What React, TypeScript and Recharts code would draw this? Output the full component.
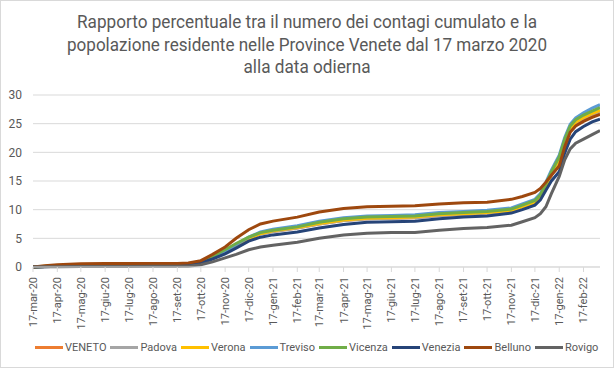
import React from 'react';
import { LineChart, Line, XAxis, YAxis, CartesianGrid } from 'recharts';

const dates = [
  '2020-03-17', '2020-04-01', '2020-04-17', '2020-05-17', '2020-06-17', '2020-07-17', '2020-08-17', '2020-09-17',
  '2020-10-01', '2020-10-17', '2020-11-01', '2020-11-17', '2020-12-01', '2020-12-17', '2021-01-01', '2021-01-17',
  '2021-02-17', '2021-03-17', '2021-04-17', '2021-05-17', '2021-06-17', '2021-07-17', '2021-08-17', '2021-09-17',
  '2021-10-17', '2021-11-17', '2021-12-01', '2021-12-17', '2021-12-24', '2021-12-31', '2022-01-07', '2022-01-17',
  '2022-01-24', '2022-01-31', '2022-02-07', '2022-02-17', '2022-02-28', '2022-03-10',
];

const veneto = [0.01, 0.1, 0.2, 0.3, 0.35, 0.35, 0.36, 0.37, 0.45, 0.85, 1.6, 2.6, 3.7, 4.9, 5.8, 6.2, 6.8, 7.5, 8.1, 8.4, 8.5, 8.6, 9.0, 9.2, 9.4, 9.8, 10.4, 11.2, 12.2, 14.0, 16.0, 18.5, 21.6, 23.9, 25.0, 25.8, 26.5, 27.0];
const padova = [0.01, 0.1, 0.2, 0.3, 0.35, 0.35, 0.36, 0.37, 0.45, 0.85, 1.6, 2.6, 3.7, 4.9, 5.8, 6.2, 6.8, 7.5, 8.1, 8.4, 8.5, 8.6, 9.0, 9.2, 9.4, 9.8, 10.4, 11.2, 12.2, 14.1, 16.2, 18.7, 21.8, 24.1, 25.2, 26.0, 26.7, 27.1];
const verona = [0.01, 0.12, 0.25, 0.35, 0.4, 0.4, 0.41, 0.42, 0.5, 0.9, 1.6, 2.6, 3.7, 4.9, 5.8, 6.3, 6.9, 7.6, 8.2, 8.5, 8.6, 8.7, 9.1, 9.3, 9.5, 9.9, 10.5, 11.3, 12.3, 14.2, 16.3, 18.8, 21.9, 24.2, 25.3, 26.1, 26.8, 27.3];
const treviso = [0.01, 0.1, 0.2, 0.25, 0.3, 0.3, 0.31, 0.32, 0.45, 0.9, 1.7, 2.7, 3.9, 5.2, 6.1, 6.6, 7.2, 8.0, 8.6, 8.9, 9.0, 9.1, 9.5, 9.7, 9.9, 10.3, 11.0, 11.8, 12.8, 14.8, 16.9, 19.5, 22.6, 24.9, 26.0, 26.9, 27.7, 28.3];
const vicenza = [0.01, 0.1, 0.2, 0.3, 0.35, 0.35, 0.36, 0.37, 0.5, 1.0, 1.9, 3.0, 4.1, 5.2, 6.0, 6.4, 7.0, 7.8, 8.4, 8.7, 8.8, 8.9, 9.3, 9.5, 9.7, 10.1, 10.8, 11.6, 12.6, 14.5, 16.6, 19.2, 22.3, 24.6, 25.7, 26.5, 27.2, 27.8];
const venezia = [0.01, 0.06, 0.12, 0.18, 0.2, 0.2, 0.21, 0.22, 0.3, 0.7, 1.4, 2.3, 3.3, 4.5, 5.2, 5.6, 6.1, 6.8, 7.4, 7.8, 7.9, 8.0, 8.4, 8.7, 8.9, 9.4, 10.0, 10.8, 11.7, 13.4, 15.0, 16.6, 19.9, 22.3, 23.6, 24.5, 25.3, 25.8];
const belluno = [0.02, 0.2, 0.4, 0.55, 0.6, 0.6, 0.61, 0.62, 0.7, 1.1, 2.2, 3.5, 5.0, 6.5, 7.5, 8.0, 8.7, 9.6, 10.2, 10.5, 10.6, 10.7, 11.0, 11.2, 11.3, 11.8, 12.3, 13.0, 13.7, 14.8, 16.0, 17.6, 21.0, 23.5, 24.6, 25.4, 26.1, 26.6];
const rovigo = [0.0, 0.03, 0.06, 0.08, 0.1, 0.1, 0.11, 0.12, 0.15, 0.4, 0.9, 1.6, 2.2, 3.0, 3.5, 3.8, 4.3, 5.0, 5.6, 5.9, 6.0, 6.0, 6.4, 6.7, 6.9, 7.3, 7.9, 8.6, 9.3, 10.5, 12.8, 15.8, 18.7, 20.6, 21.6, 22.3, 23.1, 23.8];

const seriesNames = ['VENETO', 'Padova', 'Verona', 'Treviso', 'Vicenza', 'Venezia', 'Belluno', 'Rovigo'];
const seriesColors = ['#ED7D31', '#A5A5A5', '#FFC000', '#5B9BD5', '#70AD47', '#264478', '#9E480E', '#636363'];
const seriesValues = [veneto, padova, verona, treviso, vicenza, venezia, belluno, rovigo];

const tickDates = [
  '2020-03-17', '2020-04-17', '2020-05-17', '2020-06-17', '2020-07-17', '2020-08-17', '2020-09-17', '2020-10-17',
  '2020-11-17', '2020-12-17', '2021-01-17', '2021-02-17', '2021-03-17', '2021-04-17', '2021-05-17', '2021-06-17',
  '2021-07-17', '2021-08-17', '2021-09-17', '2021-10-17', '2021-11-17', '2021-12-17', '2022-01-17', '2022-02-17',
];
const tickLabels = [
  '17-mar-20', '17-apr-20', '17-mag-20', '17-giu-20', '17-lug-20', '17-ago-20', '17-set-20', '17-ott-20',
  '17-nov-20', '17-dic-20', '17-gen-21', '17-feb-21', '17-mar-21', '17-apr-21', '17-mag-21', '17-giu-21',
  '17-lug-21', '17-ago-21', '17-set-21', '17-ott-21', '17-nov-21', '17-dic-21', '17-gen-22', '17-feb-22',
];
const yTicks = [0, 5, 10, 15, 20, 25, 30];
const titleLines = [
  'Rapporto percentuale tra il numero dei contagi cumulato e la',
  'popolazione residente nelle Province Venete dal 17 marzo 2020',
  'alla data odierna',
];

const FONT = 'Roboto, "Noto Sans", sans-serif';
const TEXT = '#595959';

const data = dates.map((d, i) => {
  const row: Record<string, number> = { ts: Date.parse(d) };
  seriesNames.forEach((n, k) => { row[n] = seriesValues[k][i]; });
  return row;
});
const tickTs = tickDates.map((d) => Date.parse(d));
const labelOf: Record<number, string> = {};
tickTs.forEach((t, i) => { labelOf[t] = tickLabels[i]; });

const XTick = (props: any) => {
  const { x, y, payload } = props;
  const yy = y + 3;
  return (
    <text x={x} y={yy} transform={`rotate(-90, ${x}, ${yy})`} textAnchor="end" dy="0.36em"
      fill={TEXT} fontSize={11} fontFamily={FONT}>
      {labelOf[payload.value]}
    </text>
  );
};

const titleWidths = [460, 480, 127];

export default function App() {
  return (
    <div style={{ position: 'absolute', left: 0, top: 0, width: 614, height: 368, background: '#fff', boxSizing: 'border-box', border: '1px solid #d9d9d9', overflow: 'hidden' }}>
      <div style={{ position: 'absolute', left: -1, top: -1 }}>
        <LineChart width={614} height={368} data={data} margin={{ top: 95, right: 14, bottom: 0, left: 0 }}>
          <CartesianGrid vertical={false} stroke="#d9d9d9" />
          <XAxis dataKey="ts" type="number" domain={[Date.parse('2020-03-17'), Date.parse('2022-03-10')]}
            ticks={tickTs} interval={0} height={101} allowDataOverflow
            axisLine={{ stroke: '#d9d9d9' }} tickLine={{ stroke: '#d9d9d9' }} tickSize={5} tick={<XTick />} />
          <YAxis domain={[0, 30]} ticks={yTicks} width={33} axisLine={false} tickLine={false} tickMargin={5}
            tick={{ fill: TEXT, fontSize: 12, fontFamily: FONT }} />
          {seriesNames.map((n, k) => (
            <Line key={n} type="linear" dataKey={n} stroke={seriesColors[k]} strokeWidth={3} dot={false}
              isAnimationActive={false} />
          ))}
        </LineChart>
      </div>
      <svg width={614} height={90} style={{ position: 'absolute', left: -1, top: -1 }}>
        {titleLines.map((t, i) => (
          <text key={i} x={307} y={28.3 + i * 22.2} textAnchor="middle" fill={TEXT} fontSize={18} fontFamily={FONT}
            textLength={titleWidths[i]} lengthAdjust="spacingAndGlyphs">{t}</text>
        ))}
      </svg>
      <div style={{ position: 'absolute', left: 34, top: 340, display: 'flex', alignItems: 'center', fontFamily: FONT, fontSize: 11, color: TEXT, whiteSpace: 'nowrap' }}>
        {seriesNames.map((n, k) => (
          <div key={n} style={{ display: 'flex', alignItems: 'center', marginRight: 4 }}>
            <div style={{ width: 28, height: 3, background: seriesColors[k], marginRight: 2 }} />
            <span>{n}</span>
          </div>
        ))}
      </div>
    </div>
  );
}
